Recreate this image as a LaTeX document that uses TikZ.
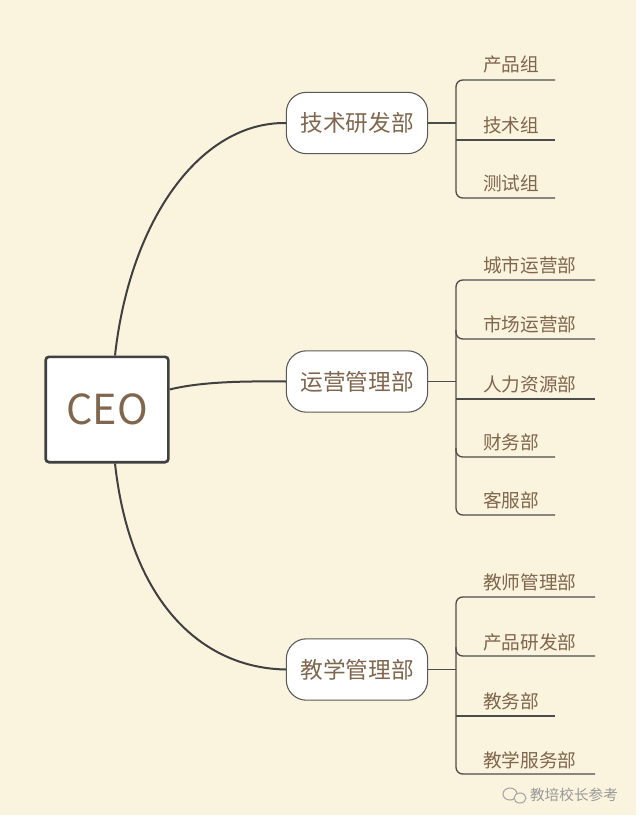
\documentclass[tikz,border=0pt]{standalone}
\usepackage{fontspec}
\setmainfont{Noto Sans CJK SC}
\setsansfont{Noto Sans CJK SC}
\begin{document}
\begin{tikzpicture}[x=0.75pt,y=-0.75pt,
  txt/.style={text=brown!50!black!80},
  line/.style={draw=black!75,line width=1.5pt},
  dept/.style={txt,draw=black!65,line width=0.8pt,fill=white,rounded corners=15pt,minimum width=106pt,minimum height=46pt,font=\fontsize{17}{19}\selectfont},
  leaf/.style={txt,anchor=base west,inner xsep=0pt,font=\fontsize{14}{16}\selectfont},
  hl/.style={draw=black!70,line width=1pt}]
\definecolor{bg}{HTML}{FAF3DE}
\fill[white] (0,0) rectangle (640,824);
\fill[bg] (0,0) rectangle (636,815);
\useasboundingbox (0,0) rectangle (640,824);
\node[txt,draw=black!75,line width=2pt,fill=white,rounded corners=2.5pt,minimum width=92pt,minimum height=79pt,font=\fontsize{31}{34}\selectfont] (ceo) at (107,409.5) {CEO};
\node[dept] (d1) at (357,123) {技术研发部};
\node[dept] (d2) at (357,381.5) {运营管理部};
\node[dept] (d3) at (357,669.5) {教学管理部};
\draw[line] (ceo.north) ++(8,0) coordinate (c1) .. controls (130,220) and (200,122) .. (d1.west);
\draw[line] (ceo.east) ++(0,-20) coordinate (c2) .. controls (200,382) and (240,381) .. (d2.west);
\draw[line] (ceo.south) ++(8,0) coordinate (c3) .. controls (130,600) and (200,668) .. (d3.west);
% group 1
\coordinate (b1) at (456,123);
\draw[hl] (d1.east) -- (b1);
\draw[hl,rounded corners=5pt] (555,80) -- (456,80) -- (456,198) -- (555,198);
\draw[hl] (456,140) -- (555,140);
\node[leaf] (l11) at (483,72) {产品组};
\node[leaf] (l12) at (483,132) {技术组};
\node[leaf] (l13) at (483,190) {测试组};
% group 2
\coordinate (b2) at (456,381.5);
\draw[hl] (d2.east) -- (b2);
\draw[hl,rounded corners=5pt] (595,280) -- (456,280) -- (456,515) -- (555,515);
\draw[hl,rounded corners=5pt] (456,330) -- (456,339) -- (595,339);
\draw[hl] (456,399) -- (595,399);
\draw[hl,rounded corners=5pt] (456,448) -- (456,457) -- (555,457);
\node[leaf] (l21) at (483,272) {城市运营部};
\node[leaf] (l22) at (483,331) {市场运营部};
\node[leaf] (l23) at (483,391) {人力资源部};
\node[leaf] (l24) at (483,449) {财务部};
\node[leaf] (l25) at (483,507) {客服部};
% group 3
\coordinate (b3) at (456,669.5);
\draw[hl] (d3.east) -- (b3);
\draw[hl,rounded corners=5pt] (595,597) -- (456,597) -- (456,774) -- (595,774);
\draw[hl,rounded corners=5pt] (456,647) -- (456,656) -- (595,656);
\draw[hl] (456,716) -- (555,716);
\node[leaf] (l31) at (483,589) {教师管理部};
\node[leaf] (l32) at (483,649) {产品研发部};
\node[leaf] (l33) at (483,708) {教务部};
\node[leaf] (l34) at (483,767) {教学服务部};
% watermark
\draw[black!35,line width=0.8pt] (510,794) ellipse (7 and 6);
\draw[black!35,line width=0.8pt,fill=bg] (520,798) ellipse (6 and 5);
\node[text=black!40,font=\fontsize{11}{13}\selectfont] (wm) at (574,795) {教培校长参考};
\end{tikzpicture}
\end{document}
